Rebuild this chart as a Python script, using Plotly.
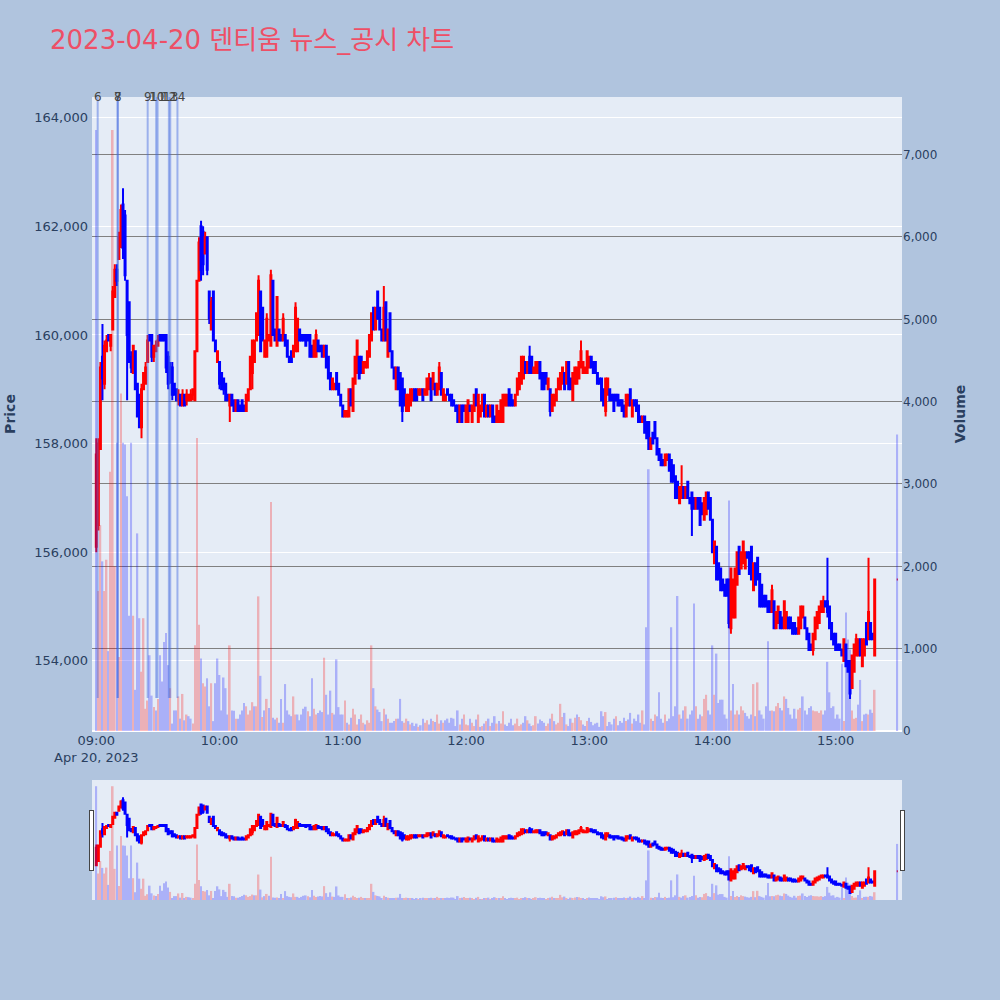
import pandas as pd
import plotly.graph_objects as go
from plotly.subplots import make_subplots

# ---------------- data (1-minute bars, 2023-04-20) ----------------
bar_times = list(pd.date_range("2023-04-20 09:00", periods=380, freq="min")) + [pd.Timestamp("2023-04-20 15:30")]

opens = [
    156100,156500,157900,159600,159100,159700,160000,159800,160100,160700,
    161200,161400,161700,162400,162200,161000,160600,159600,159300,159700,
    159100,158900,158300,159000,159100,159500,160000,160000,159600,159700,
    159800,160000,160000,160000,160000,159600,159400,159400,159100,159000,
    158800,158900,158700,158900,158800,158800,158800,158900,158800,159700,
    161000,162000,161900,161500,161800,160800,160100,160800,159900,159500,
    159500,159300,159200,159100,158900,158700,158900,158800,158600,158800,
    158700,158800,158700,158600,158800,159000,159300,159500,159900,160000,
    160800,160500,159600,159600,159900,159800,161000,160100,159800,160100,
    160000,159900,160000,159900,159600,159700,159600,159700,159700,160100,
    160000,160000,160000,160000,160000,159800,159600,159600,159900,159800,
    159800,159600,159800,159600,159300,159000,159000,159300,159100,158900,
    158700,158500,158500,158500,159000,158600,159100,159300,159600,159600,
    159300,159400,159400,159600,159900,160500,160100,160800,160500,160100,
    159900,160600,159600,160400,159700,159400,159000,159400,159300,159200,
    159000,158600,158600,158700,158800,159000,159000,158900,158900,159000,
    158900,158900,159000,159200,159000,159100,158900,159000,159300,158800,
    158800,159000,158900,158900,158800,158700,158700,158400,158700,158700,
    158400,158400,158700,158400,158600,159000,158400,158500,158600,158900,
    158500,158700,158500,158700,158500,158400,158400,158400,158400,158700,
    158700,159000,158900,158800,158700,158900,159000,159100,159200,159500,
    159300,159600,159600,159300,159300,159300,159500,159300,159300,159300,
    159000,159000,158600,158700,158800,159000,159000,159100,159300,159100,
    159500,159200,158800,159100,159100,159200,159400,159300,159300,159300,
    159400,159600,159500,159500,159300,159200,159200,159000,158600,158900,
    159000,158900,158900,158900,158900,158800,158800,158700,158500,158700,
    159000,158500,158800,158800,158700,158500,158400,158500,158400,158400,
    157900,158200,158400,158100,157900,157800,157700,157600,157700,157800,
    157700,157600,157400,157300,156900,157000,157200,157000,157300,157000,
    157100,157000,156800,157000,157000,156900,156600,156700,157100,157000,
    156600,155800,156100,155800,155700,155500,155400,155500,155500,154600,
    154800,154800,155400,156100,155700,155800,155700,156000,156000,156100,
    155300,155800,155900,155600,155400,155200,155200,155100,155100,154900,
    155100,154600,154700,154900,154800,154600,154600,154800,154800,154700,
    154700,154600,154500,154600,154800,154800,154600,154500,154300,154200,
    154400,154600,154700,154900,154900,155100,155100,155000,154700,154500,
    154500,154300,154300,154200,154000,154300,154000,154000,153500,153800,
    154100,154100,154400,153900,154100,154700,154400,154700,154500,154100,
    155500,
]

closes = [
    157800,158000,159400,159200,159800,159900,159900,160000,160800,161200,
    161000,161800,162300,161600,161100,160000,159500,159400,159800,159000,
    158500,158300,159000,159300,159400,159900,159900,159600,159800,159800,
    159900,159900,159900,159900,159400,159100,159200,158900,158900,158800,
    158900,158700,158900,158700,158900,158900,158900,159000,159700,161000,
    161700,161200,161300,161800,161200,160300,160600,159900,159700,159700,
    159100,159000,159000,158800,158800,158900,158700,158600,158800,158600,
    158600,158600,158600,158900,159000,159600,159900,159900,160400,161000,
    159700,159900,159900,160300,160000,161100,160000,159900,160700,159900,
    159900,160300,159800,159600,159500,159500,159800,160500,160300,159900,
    159900,159900,159800,159900,159600,159600,159900,160000,159700,159700,
    159600,159800,159400,159200,159000,159200,159100,159000,158900,158700,
    158500,158600,158600,159000,158700,159200,159600,159900,159200,159300,
    159500,159500,159700,160000,160400,160100,160500,160300,160100,159900,
    160500,159900,160100,159700,159400,159200,159400,159000,158700,158600,
    158700,158900,158900,159000,159000,158800,158800,159000,159000,158800,
    159000,159200,159200,158800,159300,158900,159100,159400,158900,159000,
    158900,158900,158800,158700,158700,158600,158400,158700,158400,158600,
    158700,158800,158600,158700,158900,158700,158900,158700,158900,158500,
    158700,158500,158700,158400,158400,158700,158600,158800,158900,158900,
    158900,158700,158700,158700,158900,159200,159300,159600,159600,159300,
    159500,159300,159300,159400,159500,159500,159200,159000,159000,159100,
    159200,158600,158900,158900,159000,159200,159300,159400,159000,159500,
    159000,159000,159300,159400,159400,159500,159700,159500,159400,159700,
    159600,159400,159300,159300,159100,159100,158800,158700,159200,159200,
    158800,158800,158600,158800,158700,158700,158600,158500,158900,158900,
    158700,158800,158700,158600,158400,158400,158500,158200,158100,157900,
    158100,158000,158100,157800,157700,157600,157600,157800,157800,157500,
    157300,157300,157000,157000,157200,157200,157000,157200,157000,156900,
    156800,156800,157000,156800,156500,156700,157000,157100,156800,156600,
    156000,156200,155500,155500,155300,155300,155200,155200,154700,155700,
    155500,155700,156000,155600,156000,156200,156000,155900,155600,155500,
    155800,155400,155500,155000,155000,155000,155000,154900,154900,155300,
    154600,154900,155000,154600,154600,155100,154900,154600,154600,154500,
    154500,154500,154800,155000,155000,154600,154400,154200,154200,154500,
    154800,154900,155000,155100,155100,155000,154900,154600,154400,154300,
    154200,154200,154200,154100,154400,153900,153800,153400,154100,154300,
    154400,154400,154100,154400,154400,154300,154900,154400,154400,155500,
    155500,
]

# upper / lower shadows (bar index -> price)
shadow_highs = {0: 158100, 1: 158100, 2: 159500, 3: 160200, 4: 159900, 5: 160000, 8: 160900,
                9: 161300, 10: 161300, 11: 161900, 12: 162400, 13: 162700, 14: 162300, 15: 161000,
                17: 159700, 22: 159100, 24: 159500, 25: 160000, 29: 159900, 30: 160000,
                35: 159700, 36: 159500, 37: 159500, 40: 159000, 42: 159000, 44: 159000,
                46: 159000, 50: 161800, 51: 162100, 52: 162000, 53: 161900, 56: 160700,
                79: 161100, 83: 160400, 85: 161200, 91: 160400, 97: 160600, 107: 160100,
                140: 160900, 162: 159300, 167: 159500, 211: 159800, 236: 159900, 285: 157600,
                329: 155400, 354: 155200, 356: 155900, 370: 154500, 376: 155900}
shadow_lows = {0: 156000, 1: 156400, 3: 158800, 4: 159000, 7: 159700, 10: 160900, 12: 161600,
               13: 161400, 14: 161000, 15: 158800, 17: 159300, 22: 158100, 27: 159500,
               28: 159500, 34: 159300, 35: 159000, 36: 159100, 37: 158800, 40: 158700,
               44: 158700, 47: 158800, 51: 161000, 52: 161100, 54: 161100, 55: 160200,
               60: 159000, 62: 158900, 65: 158400, 76: 159000, 149: 158400, 221: 158500,
               248: 158500, 290: 156300, 308: 154600, 309: 154500, 349: 154100, 356: 154800,
               367: 153300}

volumes = [
    7300,1700,2500,2060,1700,2080,970,3150,7300,2000,
    3500,900,4100,3500,3480,2850,1400,3500,1400,500,
    2400,1370,720,1370,270,370,920,430,290,250,
    390,920,600,1080,1190,800,520,90,250,250,
    420,150,450,130,200,180,150,90,1040,3560,
    1290,880,580,540,640,300,580,120,580,880,
    680,250,650,520,200,1040,250,245,150,150,
    200,250,340,300,200,250,350,300,300,1635,
    670,170,250,390,280,2780,160,140,160,100,
    390,100,570,250,200,180,420,200,200,130,
    200,270,295,240,180,640,270,200,220,250,
    230,890,440,200,490,220,200,870,290,200,
    200,370,100,80,160,270,200,80,145,200,
    100,80,130,100,1040,520,300,260,230,120,
    270,200,150,100,100,120,150,150,390,120,
    100,150,120,80,100,60,90,50,70,150,
    100,130,80,150,120,110,200,90,130,100,
    130,150,100,160,150,60,250,80,150,200,
    80,70,150,100,60,140,200,50,60,90,
    120,150,60,100,180,90,120,90,240,80,
    60,100,150,70,90,150,60,80,100,180,
    130,90,60,70,180,90,140,120,100,60,
    90,150,210,120,80,100,330,170,220,80,
    60,150,100,160,200,170,130,80,60,120,
    160,110,70,90,100,50,240,180,230,60,
    110,80,150,180,70,120,100,160,120,140,
    220,90,150,120,200,100,250,80,1260,3180,
    150,120,200,180,470,150,100,200,120,150,
    1260,180,300,1640,200,150,250,300,150,200,
    250,1550,300,150,200,180,390,440,250,200,
    1040,440,940,340,380,380,200,150,2800,250,
    570,200,250,200,300,250,220,180,150,200,
    570,180,590,250,200,150,300,1090,245,250,
    240,300,340,280,250,420,390,280,200,150,
    270,150,260,280,420,250,200,280,300,250,
    240,240,220,250,200,250,840,470,280,300,
    150,200,150,816,120,1440,1110,990,250,150,
    160,320,620,120,200,210,200,260,220,500,
    3600,
]

# news / disclosure markers
news_labels = ["6", "7", "8", "9", "10", "11", "12", "13", "14"]
news_times = ["2023-04-20 09:00:40", "2023-04-20 09:10:20", "2023-04-20 09:10:30",
              "2023-04-20 09:25:00", "2023-04-20 09:29:10", "2023-04-20 09:29:50",
              "2023-04-20 09:35:20", "2023-04-20 09:36:00", "2023-04-20 09:39:30"]

# ---------------- derived ----------------
highs = [max(o, c, shadow_highs.get(i, 0)) for i, (o, c) in enumerate(zip(opens, closes))]
lows = [min(o, c, shadow_lows.get(i, 10**9)) for i, (o, c) in enumerate(zip(opens, closes))]
vol_colors = ["blue"] + ["red" if closes[i] > closes[i - 1] else "blue" for i in range(1, len(closes))]

FONT = "DejaVu Sans, Noto Sans CJK KR, sans-serif"
x_range = ["2023-04-20 08:57:54", "2023-04-20 15:32:18"]

fig = make_subplots(specs=[[{"secondary_y": True}]])
fig.add_trace(go.Candlestick(
    x=bar_times, open=opens, high=highs, low=lows, close=closes,
    increasing=dict(line=dict(color="red"), fillcolor="red"),
    decreasing=dict(line=dict(color="blue"), fillcolor="blue"),
    showlegend=False, name="Price"), secondary_y=False)
fig.add_trace(go.Bar(
    x=bar_times, y=volumes, marker=dict(color=vol_colors, line=dict(width=0)),
    opacity=0.25, showlegend=False, name="Volume"), secondary_y=True)

for t, lab in zip(news_times, news_labels):
    fig.add_shape(type="line", xref="x", yref="paper", x0=t, x1=t, y0=0.052, y1=1,
                  line=dict(color="rgba(65,105,225,0.45)", width=2))
    fig.add_annotation(x=t, y=1, xref="x", yref="paper", text=lab, showarrow=False,
                       yanchor="middle", xanchor="center",
                       font=dict(family=FONT, size=12, color="#444"))

fig.update_layout(
    width=1000, height=1000,
    font=dict(family=FONT, size=13, color="#2a3f5f"),
    title=dict(text="2023-04-20 덴티움 뉴스_공시 차트", x=0.05, xanchor="left",
               y=0.96, yanchor="middle", font=dict(family=FONT, size=26, color="#EE4F66")),
    paper_bgcolor="lightsteelblue",
    plot_bgcolor="#E5ECF6",
    margin=dict(l=92, r=98, t=97, b=100),
    showlegend=False,
    xaxis=dict(domain=[0, 1], range=x_range, showgrid=False, type="date", tickfont=dict(size=13),
               rangeslider=dict(visible=True, range=x_range, bgcolor="#E5ECF6", thickness=0.15)),
    yaxis=dict(title=dict(text="<b>Price</b>", font=dict(size=14), standoff=15), range=[152710, 164380],
               dtick=2000, tickformat=",", gridcolor="white", zeroline=False,
               automargin=False, tickfont=dict(size=13), ticklabelstandoff=3),
    yaxis2=dict(title=dict(text="<b>Volume</b>", font=dict(size=14), standoff=18), range=[0, 7700],
                dtick=1000, tickformat=",", gridcolor="gray", zerolinecolor="white",
                automargin=False, tickfont=dict(size=12)),
)

fig.write_html("out.html", post_script="document.body.style.margin='0';",
               config={"displayModeBar": False})
